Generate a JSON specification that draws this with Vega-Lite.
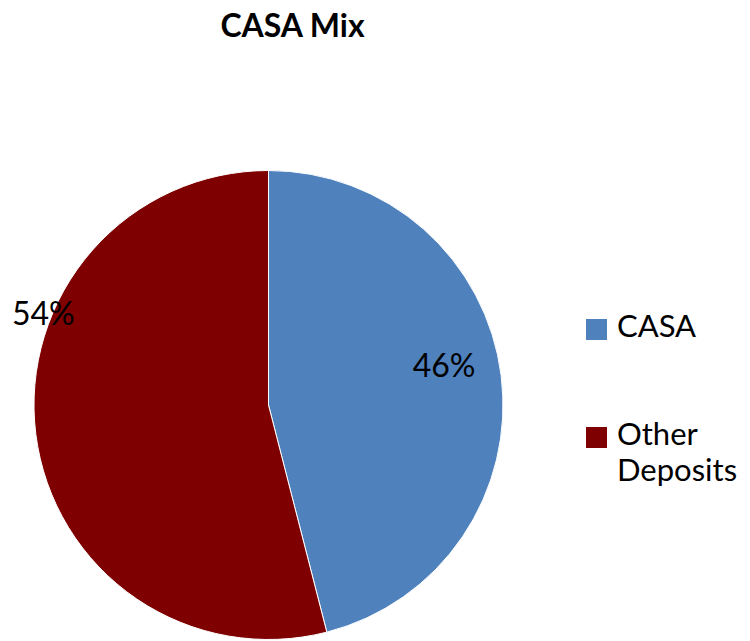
{
  "$schema": "https://vega.github.io/schema/vega-lite/v6.json",
  "autosize": "none",
  "width": 537,
  "height": 469,
  "padding": {"top": 170.5, "left": 0, "right": 213, "bottom": 1.5},
  "background": "white",
  "config": {
    "style": {"guide-label": {"lineHeight": 36, "dy": 7}}
  },
  "title": {
    "text": "CASA Mix",
    "font": "Lato",
    "fontSize": 32,
    "fontWeight": "bold",
    "color": "black",
    "anchor": "middle",
    "frame": "group",
    "baseline": "alphabetic",
    "offset": 99.5,
    "dx": 24
  },
  "data": {
    "values": [
      {"category": "CASA", "share": 0.46},
      {"category": "Other Deposits", "share": 0.54}
    ]
  },
  "layer": [
    {
      "mark": {"type": "arc", "stroke": "white", "strokeWidth": 1, "tooltip": false},
      "encoding": {
        "theta": {"field": "share", "type": "quantitative", "stack": true},
        "color": {
          "field": "category",
          "type": "nominal",
          "scale": {"domain": ["CASA", "Other Deposits"], "range": ["#4f81bd", "#7f0000"]},
          "legend": {
            "title": null,
            "orient": "none",
            "legendX": 581,
            "legendY": 143.5,
            "padding": 0,
            "symbolType": "square",
            "symbolSize": 441,
            "symbolStrokeWidth": 0,
            "labelFont": "Lato",
            "labelFontSize": 31,
            "labelColor": "black",
            "labelOffset": 5,
            "labelLimit": 300,
            "rowPadding": 76,
            "labelBaseline": "alphabetic",
            "labelExpr": "datum.label === 'Other Deposits' ? ['Other', 'Deposits'] : datum.label"
          }
        }
      }
    },
    {
      "mark": {"type": "text", "radius": 179, "dx": -2, "dy": -16, "font": "Lato", "fontSize": 32, "color": "black", "align": "center", "baseline": "middle"},
      "encoding": {
        "theta": {"field": "share", "type": "quantitative", "stack": true},
        "detail": {"field": "category", "type": "nominal"},
        "text": {"condition": {"test": "datum.category === 'CASA'", "field": "share", "type": "quantitative", "format": ".0%"}, "value": ""}
      }
    },
    {
      "mark": {"type": "text", "radius": 227, "dx": 0, "dy": -118, "font": "Lato", "fontSize": 32, "color": "black", "align": "center", "baseline": "middle"},
      "encoding": {
        "theta": {"field": "share", "type": "quantitative", "stack": true},
        "detail": {"field": "category", "type": "nominal"},
        "text": {"condition": {"test": "datum.category === 'Other Deposits'", "field": "share", "type": "quantitative", "format": ".0%"}, "value": ""}
      }
    }
  ]
}
